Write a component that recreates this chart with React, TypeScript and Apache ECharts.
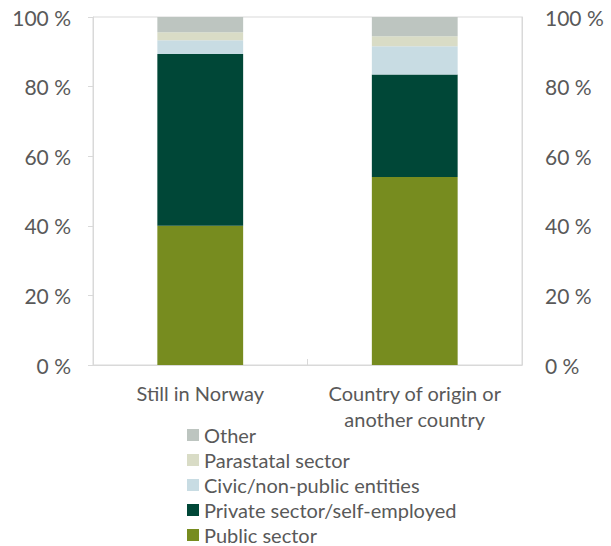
import React, { useEffect, useRef } from "react";
import * as echarts from "echarts";

const categories = ["Still in Norway", "Country of origin or\nanother country"];
const seriesNames = [
  "Public sector",
  "Private sector/self-employed",
  "Civic/non-public entities",
  "Parastatal sector",
  "Other",
];
const publicSector = [40.0, 54.0];
const privateSector = [49.4, 29.5];
const civic = [3.9, 8.1];
const parastatal = [2.3, 2.9];
const other = [4.4, 5.5];
const colors = ["#778C1F", "#004737", "#C8DCE3", "#D9DCC6", "#BDC5C0"];

const CHART_H = 620;

export default function App() {
  const ref = useRef<HTMLDivElement>(null);
  useEffect(() => {
    if (!ref.current) return;
    const chart = echarts.init(ref.current, undefined, { renderer: "svg" });
    const values = [publicSector, privateSector, civic, parastatal, other];
    const font = "Lato, 'Open Sans', sans-serif";
    const labelStyle = { color: "#595959", fontSize: 20, fontFamily: font };
    chart.setOption({
      animation: false,
      grid: {
        left: 93,
        right: 89,
        top: 17,
        bottom: CHART_H - 365,
        show: true,
        borderColor: "#D9D9D9",
        borderWidth: 1,
      },
      legend: {
        orient: "vertical",
        left: 182,
        top: 420,
        itemWidth: 12,
        itemHeight: 12,
        itemGap: 5,
        icon: "rect",
        data: [...seriesNames].reverse(),
        textStyle: { ...labelStyle, lineHeight: 20 },
      },
      xAxis: {
        type: "category",
        data: categories,
        axisLine: { lineStyle: { color: "#D9D9D9" } },
        axisTick: { show: true, inside: true, length: 6, lineStyle: { color: "#D9D9D9" } },
        axisLabel: { ...labelStyle, interval: 0, lineHeight: 26, margin: 15 },
      },
      yAxis: [
        {
          type: "value",
          min: 0,
          max: 100,
          interval: 20,
          splitLine: { show: false },
          axisLine: { show: true, lineStyle: { color: "#D9D9D9" } },
          axisTick: { show: true, length: 5, lineStyle: { color: "#D9D9D9" } },
          axisLabel: { ...labelStyle, fontSize: 21, margin: 22, formatter: (v: number) => `${v} %` },
        },
        {
          type: "value",
          min: 0,
          max: 100,
          interval: 20,
          position: "right",
          splitLine: { show: false },
          axisLine: { show: true, lineStyle: { color: "#D9D9D9" } },
          axisTick: { show: false },
          axisLabel: { ...labelStyle, fontSize: 21, margin: 23, formatter: (v: number) => `${v} %` },
        },
      ],
      series: seriesNames.map((name, i) => ({
        name,
        type: "bar",
        stack: "total",
        barWidth: "40%",
        data: values[i],
        itemStyle: { color: colors[i] },
      })),
    });
    return () => chart.dispose();
  }, []);
  return (
    <div style={{ position: "absolute", left: 0, top: 0, width: 611, height: 546, overflow: "hidden" }}>
      <div ref={ref} style={{ width: 611, height: CHART_H }} />
    </div>
  );
}
